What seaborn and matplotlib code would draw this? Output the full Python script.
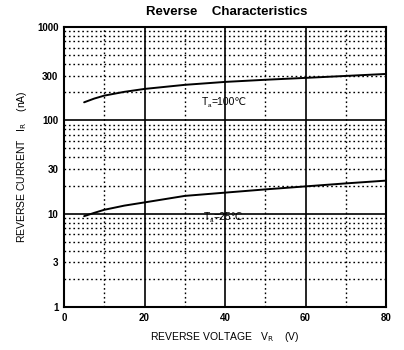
import numpy as np
import pandas as pd
import matplotlib
matplotlib.use("Agg")
import matplotlib.pyplot as plt
import matplotlib.transforms as mtransforms
import seaborn as sns

voltage = [5, 7.5, 10, 15, 20, 30, 40, 50, 60, 70, 80]
current_100c = [156, 171, 184, 202, 217, 240, 258, 272, 285, 299, 314]
current_25c = [9.4, 10.2, 11.0, 12.2, 13.2, 15.5, 16.8, 18.2, 19.6, 21.1, 22.6]
x_ticks = [0, 20, 40, 60, 80]
y_ticks = [1, 3, 10, 30, 100, 300, 1000]
y_ticklabels = ["1", "3", "10", "30", "100", "300", "1000"]

sns.set_style("white")
plt.rcParams['font.family'] = ['Liberation Sans', 'DejaVu Sans']
plt.rcParams['text.color'] = 'black'
plt.rcParams['axes.labelcolor'] = 'black'
plt.rcParams['xtick.color'] = 'black'
plt.rcParams['ytick.color'] = 'black'

df = pd.DataFrame({
    "V": voltage * 2,
    "I": current_100c + current_25c,
    "T": ["100"] * len(voltage) + ["25"] * len(voltage),
})

fig = plt.figure(figsize=(4.04, 3.5), dpi=100)
ax = fig.add_axes([64/404, 43/350, 322/404, 280/350])

ax.set_yscale("log")
ax.set_xlim(0, 80)
ax.set_ylim(1, 1000)

# grid
for x in [10, 30, 50, 70]:
    ax.axvline(x, color="black", lw=1.0, ls=(0, (1.2, 2.0)), zorder=1)
for x in [20, 40, 60]:
    ax.axvline(x, color="black", lw=1.2, zorder=1)
for d in [1, 10, 100]:
    for m in range(2, 10):
        ax.axhline(d * m, color="black", lw=1.0, ls=(0, (1.2, 2.0)), zorder=1)
for y in [10, 100]:
    ax.axhline(y, color="black", lw=1.2, zorder=1)

sns.lineplot(data=df, x="V", y="I", hue="T", palette=["black", "black"],
             legend=False, ax=ax, lw=1.4, zorder=3)

ax.set_xticks(x_ticks)
ax.set_xticklabels([str(v) for v in x_ticks], fontsize=7, fontweight="bold")
ax.set_yticks(y_ticks)
ax.set_yticklabels(y_ticklabels, fontsize=7, fontweight="bold")
ax.minorticks_off()
ax.tick_params(length=0, pad=4)
for s in ax.spines.values():
    s.set_linewidth(1.5)
    s.set_color("black")

fam = ['Liberation Sans', 'DejaVu Sans']


def label(x, y, rest):
    ax.text(x, y, "T", fontsize=7.5, va="center", ha="left", family=fam, zorder=4)
    t1 = mtransforms.offset_copy(ax.transData, fig=fig, x=4.2, y=-2.2, units="points")
    ax.text(x, y, "a", fontsize=4.5, va="center", ha="left", family=fam,
            transform=t1, zorder=4)
    t2 = mtransforms.offset_copy(ax.transData, fig=fig, x=6.6, y=0, units="points")
    ax.text(x, y, rest, fontsize=7.5, va="center", ha="left", family=fam,
            transform=t2, zorder=4)


label(34.3, 157, "=100℃")
label(34.8, 9.2, "=25℃")

fig.text(0.56, 0.965, "Reverse    Characteristics", fontsize=9.5, fontweight="bold",
         ha="center", va="center")
ax.set_xlabel(r"REVERSE VOLTAGE   V$_{\mathrm{R}}$    (V)", fontsize=7.5, labelpad=5)
ax.set_ylabel(r"REVERSE CURRENT   I$_{\mathrm{R}}$    (nA)", fontsize=7.5, labelpad=6)

fig.savefig("out.png", dpi=100)
